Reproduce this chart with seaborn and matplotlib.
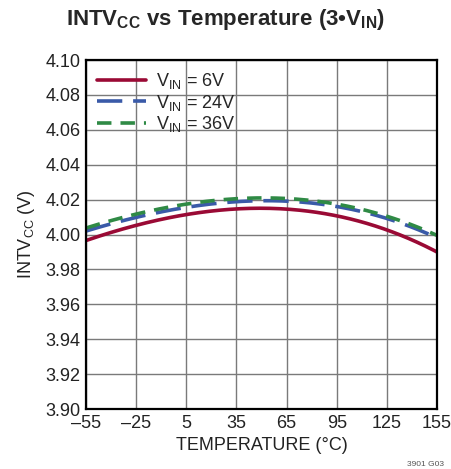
import numpy as np
import pandas as pd
import matplotlib
matplotlib.use('Agg')
import matplotlib.pyplot as plt
import seaborn as sns
from matplotlib import font_manager

temps = [-55, -25, 5, 35, 65, 95, 125, 155]
vin_6v = [3.9966, 4.0050, 4.0118, 4.0149, 4.0141, 4.0103, 4.0034, 3.9897]
vin_24v = [4.0023, 4.0090, 4.0160, 4.0192, 4.0192, 4.0153, 4.0097, 3.9980]
vin_36v = [4.0040, 4.0110, 4.0177, 4.0210, 4.0207, 4.0166, 4.0110, 3.9994]
series_labels = [r'$\mathregular{V_{IN}}$ = 6V', r'$\mathregular{V_{IN}}$ = 24V', r'$\mathregular{V_{IN}}$ = 36V']

sns.set_style('white')
names = {f.name for f in font_manager.fontManager.ttflist}
fam = 'Liberation Sans Narrow' if 'Liberation Sans Narrow' in names else 'Liberation Sans'
plt.rcParams['font.family'] = [fam, 'DejaVu Sans']
plt.rcParams['mathtext.fontset'] = 'custom'
plt.rcParams['mathtext.rm'] = fam
plt.rcParams['mathtext.bf'] = fam + ':bold'

# smooth the curves through the read points
t_fine = np.linspace(-55, 155, 211)
rows = []
for lab, vals in zip(series_labels, [vin_6v, vin_24v, vin_36v]):
    coef = np.polyfit(temps, vals, 3)
    for t in t_fine:
        rows.append({'temp': t, 'v': np.polyval(coef, t), 'series': lab})
df = pd.DataFrame(rows)

fig = plt.figure(figsize=(4.51, 4.69), dpi=100)
ax = fig.add_axes([0.1907, 0.1279, 0.7783, 0.7441])

colors = ['#9a0a35', '#3a5aa8', '#2f8a45']
styles = [(None, None), (7, 3), (4, 2.5)]
for lab, c, d in zip(series_labels, colors, styles):
    sub = df[df['series'] == lab]
    line, = ax.plot(sub['temp'], sub['v'], color=c, lw=2.6, label=lab)
    if d[0] is not None:
        line.set_dashes(d)

ax.set_xlim(-55, 155)
ax.set_ylim(3.90, 4.10)
ax.set_xticks(temps)
ax.set_xticklabels([str(t).replace('-', '\u2013') for t in temps])
ax.set_yticks(np.arange(3.90, 4.101, 0.02))
ax.set_yticklabels([f'{v:.2f}' for v in np.arange(3.90, 4.101, 0.02)])
ax.tick_params(labelsize=13, length=0, pad=4, colors='#222222')
ax.grid(True, color='#7a7a7a', lw=1.0)
for s in ax.spines.values():
    s.set_color('black')
    s.set_linewidth(1.6)

ax.set_xlabel('TEMPERATURE (°C)', fontsize=13, color='#222222')
ax.set_ylabel(r'INTV$\mathregular{_{CC}}$ (V)', fontsize=13, color='#222222', labelpad=6)
fig.suptitle(r'INTV$\mathbf{_{CC}}$ vs Temperature (3•V$\mathbf{_{IN}}$)', fontsize=16,
             fontweight='bold', y=0.985)

ax.legend(loc='upper left', frameon=False, fontsize=13, handlelength=2.7,
          handletextpad=0.6, labelspacing=0.1, borderaxespad=0.2)

fig.text(0.985, 0.002, '3901 G03', fontsize=6, ha='right', va='bottom', color='#555555')
fig.savefig('out.png', dpi=100)
